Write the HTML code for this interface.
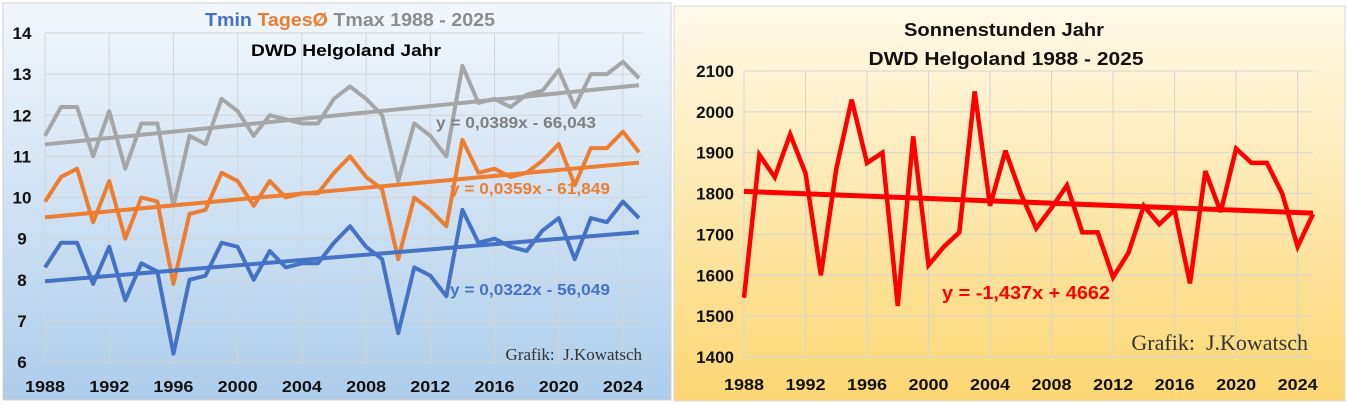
<!DOCTYPE html>
<html><head><meta charset="utf-8"><style>
html,body{margin:0;padding:0;background:#fff;}
svg{display:block;font-family:"Liberation Sans",sans-serif;}
</style></head><body>
<svg id="c" width="1348" height="405">
<defs>
<linearGradient id="gb" x1="0" y1="0" x2="0" y2="1"><stop offset="0" stop-color="#f2f7fc"/><stop offset="1" stop-color="#adcdeb"/></linearGradient>
<linearGradient id="gy" x1="0" y1="0" x2="0" y2="1"><stop offset="0" stop-color="#fef9e8"/><stop offset="1" stop-color="#fcd672"/></linearGradient>
</defs>
<rect x="3" y="3" width="668" height="397" fill="url(#gb)" stroke="#d0d0d0"/>
<rect x="674" y="6" width="671" height="395" fill="url(#gy)" stroke="#d8d8d8"/>
<g id="L"></g><g id="R"></g>
<text x="350" y="26" text-anchor="middle" font-size="18" font-weight="bold" textLength="290" lengthAdjust="spacingAndGlyphs"><tspan fill="#4472c4">Tmin </tspan><tspan fill="#ed7d31">TagesØ </tspan><tspan fill="#8c8c8c">Tmax 1988 - 2025</tspan></text>
<text x="346" y="56" text-anchor="middle" font-size="17" font-weight="bold" fill="#000" textLength="190" lengthAdjust="spacingAndGlyphs">DWD Helgoland Jahr</text>
<text x="1004" y="36" text-anchor="middle" font-size="18" font-weight="bold" fill="#111" textLength="200" lengthAdjust="spacingAndGlyphs">Sonnenstunden Jahr</text>
<text x="1006" y="65" text-anchor="middle" font-size="18" font-weight="bold" fill="#111" textLength="275" lengthAdjust="spacingAndGlyphs">DWD Helgoland 1988 - 2025</text>
<text x="642" y="360" text-anchor="end" font-family="Liberation Serif,serif" font-size="17" fill="#333">Grafik:&#160;&#160;J.Kowatsch</text>
<text x="1308" y="350" text-anchor="end" font-family="Liberation Serif,serif" font-size="22" fill="#333">Grafik:&#160;&#160;J.Kowatsch</text>
</svg>
<script>
const years=[];for(let y=1988;y<=2025;y++)years.push(y);
const tmax=[11.5,12.2,12.2,11.0,12.1,10.7,11.8,11.8,9.8,11.5,11.3,12.4,12.1,11.5,12.0,11.9,11.8,11.8,12.4,12.7,12.4,12.0,10.4,11.8,11.5,11.0,13.2,12.3,12.4,12.2,12.5,12.6,13.1,12.2,13.0,13.0,13.3,12.9];
const tmean=[9.9,10.5,10.7,9.4,10.4,9.0,10.0,9.9,7.9,9.6,9.7,10.6,10.4,9.8,10.4,10.0,10.1,10.1,10.6,11.0,10.5,10.2,8.5,10.0,9.7,9.3,11.4,10.6,10.7,10.5,10.6,10.9,11.3,10.3,11.2,11.2,11.6,11.1];
const tmin=[8.3,8.9,8.9,7.9,8.8,7.5,8.4,8.2,6.2,8.0,8.1,8.9,8.8,8.0,8.7,8.3,8.4,8.4,8.9,9.3,8.8,8.5,6.7,8.3,8.1,7.6,9.7,8.9,9.0,8.8,8.7,9.2,9.5,8.5,9.5,9.4,9.9,9.5];
const sun=[1545,1895,1840,1945,1850,1600,1860,2030,1875,1900,1525,1940,1625,1670,1705,2050,1770,1905,1800,1715,1765,1820,1705,1705,1595,1655,1770,1725,1760,1580,1855,1755,1910,1875,1875,1800,1670,1750];
const leftTicks=[6,7,8,9,10,11,12,13,14];
const rightTicks=[1400,1500,1600,1700,1800,1900,2000,2100];
const xTicks=[1988,1992,1996,2000,2004,2008,2012,2016,2020,2024];
const trends=[[0.0389,-66.043],[0.0359,-61.849],[0.0322,-56.049]];
const sunTrend=[-1.437,4662];
const NS='http://www.w3.org/2000/svg';
function mk(p,t,a){const e=document.createElementNS(NS,t);for(const k in a)e.setAttribute(k,a[k]);p.appendChild(e);return e;}
function chart(g,xs,ys,ticks,yl){
  const x0=xs[0],x1=xs[1],y0=ys[0],y1=ys[1];
  const X=v=>x0+(v-1988)*(x1-x0)/37, Y=v=>y0+(v-ticks[0])*(y1-y0)/(ticks[ticks.length-1]-ticks[0]);
  ticks.forEach(t=>{const l=mk(g,'line',{x1:x0,x2:yl.right,y1:Y(t),y2:Y(t),stroke:'#d4d4d4','stroke-width':1});
    
    
    const tx=mk(g,'text',{x:yl.lx,y:Y(t)+6,'text-anchor':yl.anchor,'font-size':17,'font-weight':'bold',fill:'#111'});tx.textContent=t;
    
    });
  xTicks.forEach(t=>{const l=mk(g,'line',{x1:X(t),x2:X(t),y1:Y(ticks[0]),y2:Y(ticks[ticks.length-1]),stroke:'#d4d4d4','stroke-width':1});
    
    
    const tx=mk(g,'text',{x:X(t),y:yl.xy,'text-anchor':'middle','font-size':16,'font-weight':'bold',fill:'#111',textLength:40,lengthAdjust:'spacingAndGlyphs'});tx.textContent=t;
    
    });
  return {X,Y};
}
const L=document.getElementById('L'),R=document.getElementById('R');
const a=chart(L,[45,639],[362,33],leftTicks,{right:643,lx:22,anchor:'middle',xy:392});
const cols=['#a6a6a6','#ed7d31','#4472c4'];const names=['tmax','tmean','tmin'];
[tmax,tmean,tmin].forEach((s,i)=>{
  const p=mk(L,'polyline',{points:s.map((v,j)=>a.X(years[j])+','+a.Y(v)).join(' '),fill:'none',stroke:cols[i],'stroke-width':4,'stroke-linejoin':'round'});
  
  
  const [m,b]=trends[i];
  const t=mk(L,'line',{x1:a.X(1988),y1:a.Y(m*1988+b),x2:a.X(2025),y2:a.Y(m*2025+b),stroke:cols[i],'stroke-width':4});
  
  
});
const eqs=[['y = 0,0389x - 66,043','#7f7f7f',436,128],['y = 0,0359x - 61,849','#ed7d31',450,194],['y = 0,0322x - 56,049','#4472c4',450,295]];
eqs.forEach(e=>{const t=mk(L,'text',{x:e[2],y:e[3],'font-size':16,'font-weight':'bold',fill:e[1],textLength:160,lengthAdjust:'spacingAndGlyphs'});t.textContent=e[0];
  
  });
const b=chart(R,[744,1313],[357,71],rightTicks,{right:1313,lx:734,anchor:'end',xy:390});
const sp=mk(R,'polyline',{points:sun.map((v,j)=>b.X(years[j])+','+b.Y(v)).join(' '),fill:'none',stroke:'#ff0000','stroke-width':4.5,'stroke-linejoin':'miter','stroke-miterlimit':3});


const st=mk(R,'line',{x1:b.X(1988),y1:b.Y(sunTrend[0]*1988+sunTrend[1]),x2:b.X(2025),y2:b.Y(sunTrend[0]*2025+sunTrend[1]),stroke:'#ff0000','stroke-width':5});


const se=mk(R,'text',{x:942,y:299,'font-size':18,'font-weight':'bold',fill:'#ff0000',textLength:168,lengthAdjust:'spacingAndGlyphs'});se.textContent='y = -1,437x + 4662';


</script>
</body></html>
